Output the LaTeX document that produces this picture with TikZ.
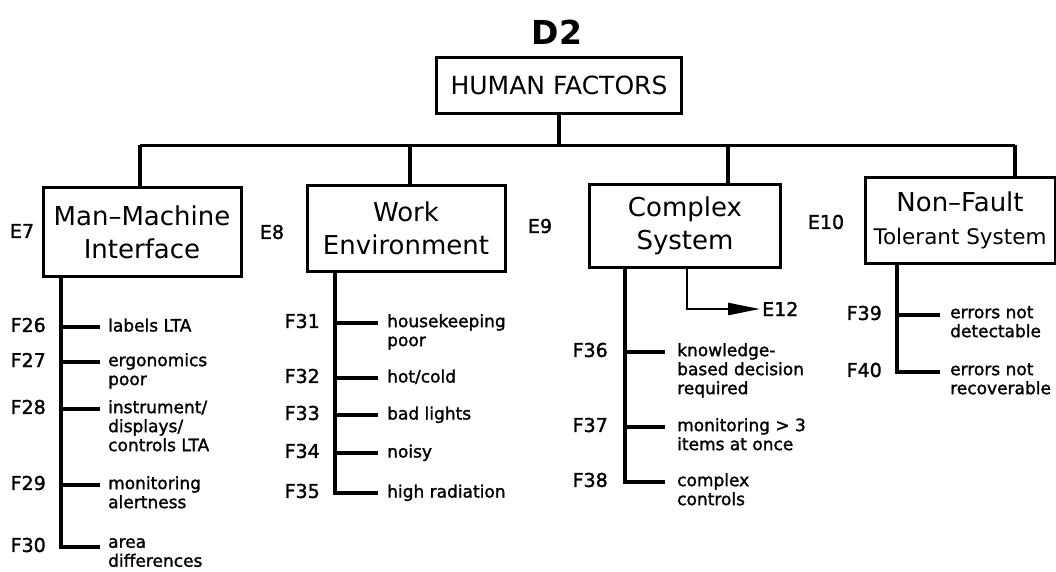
\documentclass[tikz,border=0pt]{standalone}
\usepackage{fontspec}
\setmainfont{DejaVu Sans}
\newfontfamily\plotfont[FakeBold=1.5]{DejaVu Sans}
\usetikzlibrary{calc,positioning}
\usetikzlibrary{arrows.meta}

\begin{document}
\begin{tikzpicture}[x=1pt,y=-1pt]
  \tikzstyle{ebox} = [draw=black, line width=3pt, align=center, inner sep=2pt, minimum height=86pt, font=\fontsize{26}{33}\selectfont]
  \tikzstyle{link} = [line width=3.5pt]
  \tikzstyle{elabel} = [inner sep=2pt, font=\plotfont\fontsize{19}{19}\selectfont]
  \tikzstyle{flabel} = [anchor=east, inner sep=0pt, font=\plotfont\fontsize{19}{19}\selectfont]
  \tikzstyle{leaf} = [anchor=north west, inner sep=0pt, align=left, font=\plotfont\fontsize{17}{19}\selectfont, execute at begin node=\strut]
  \useasboundingbox (0,0) rectangle (1056,571);

  \node[font=\bfseries\fontsize{33}{33}\selectfont] (d2) at (557,32) {D2};
  \node[ebox, minimum width=245pt, minimum height=56pt, font=\fontsize{25}{25}\selectfont] (hf) at (559,85) {HUMAN FACTORS};

  \node[ebox, minimum width=198pt, minimum height=89pt] (mmi) at (142,232) {Man--Machine\\Interface};
  \node[ebox, minimum width=198pt] (we) at (406,228) {Work\\Environment};
  \node[ebox, minimum width=191pt, minimum height=83pt] (cs) at (685,226) {Complex\\System};
  \node[ebox, minimum width=190pt, font=\fontsize{21.5}{33}\selectfont] (nf) at (960,220) {{\fontsize{26}{33}\selectfont Non--Fault}\\Tolerant System};

  \node[elabel] (e7) at (22,231) {E7};
  \node[elabel] (e8) at (272,232) {E8};
  \node[elabel] (e9) at (540,226) {E9};
  \node[elabel] (e10) at (826,222) {E10};
  \node[elabel, anchor=west] (e12) at (760,309) {E12};

  % tree bar
  \coordinate (barL) at (140,145);
  \coordinate (barW) at (410,145);
  \coordinate (barC) at (728,145);
  \coordinate (barR) at (1015,145);
  \draw[line width=3pt] (barL) -- (barR);
  \draw[link] (hf) -- (hf |- barL);
  \foreach \c/\b in {mmi/barL, we/barW, cs/barC, nf/barR}
    \draw[link] (\b) -- (\b |- \c.north);

  \draw[line width=2.5pt, -{Triangle[length=32pt,width=12pt]}] ([xshift=2pt]cs.south) |- (e12.west);

  % Man-Machine Interface
  \foreach \n/\y/\t in {26/327/{labels LTA}, 27/362/{ergonomics\\poor}, 28/409/{instrument/\\displays/\\controls LTA}, 29/485/{monitoring\\alertness}, 30/547/{area\\differences}}{
    \coordinate (j\n) at (61,\y);
    \coordinate (b\n) at (100,\y);
    \draw[link] (j\n) -- (b\n);
    \node[flabel] (f\n) at (46,\y-2) {F\n};
    \node[leaf] (l\n) at ([xshift=8pt,yshift=9pt]b\n) {\t};
  }
  \draw[link] (mmi.south -| j26) |- (b30);

  % Work Environment
  \foreach \n/\y/\t in {31/323/{housekeeping\\poor}, 32/378/{hot/cold}, 33/415/{bad lights}, 34/453/{noisy}, 35/493/{high radiation}}{
    \coordinate (j\n) at (335,\y);
    \coordinate (b\n) at (378,\y);
    \draw[link] (j\n) -- (b\n);
    \node[flabel] (f\n) at (320,\y-2) {F\n};
    \node[leaf] (l\n) at ([xshift=9pt,yshift=9pt]b\n) {\t};
  }
  \draw[link] (we.south -| j31) |- (b35);

  % Complex System
  \foreach \n/\y/\t in {36/352/{knowledge-\\based decision\\required}, 37/427/{monitoring > 3\\items at once}, 38/482/{complex\\controls}}{
    \coordinate (j\n) at (625,\y);
    \coordinate (b\n) at (665,\y);
    \draw[link] (j\n) -- (b\n);
    \node[flabel] (f\n) at (608,\y-2) {F\n};
    \node[leaf] (l\n) at ([xshift=12pt,yshift=9pt]b\n) {\t};
  }
  \draw[link] (cs.south -| j36) |- (b38);

  % Non-Fault Tolerant System
  \foreach \n/\y/\t in {39/315/{errors not\\detectable}, 40/372/{errors not\\recoverable}}{
    \coordinate (j\n) at (897,\y);
    \coordinate (b\n) at (940,\y);
    \draw[link] (j\n) -- (b\n);
    \node[flabel] (f\n) at (882,\y-2) {F\n};
    \node[leaf] (l\n) at ([xshift=10pt,yshift=9pt]b\n) {\t};
  }
  \draw[link] (nf.south -| j39) |- (b40);
\end{tikzpicture}
\end{document}
